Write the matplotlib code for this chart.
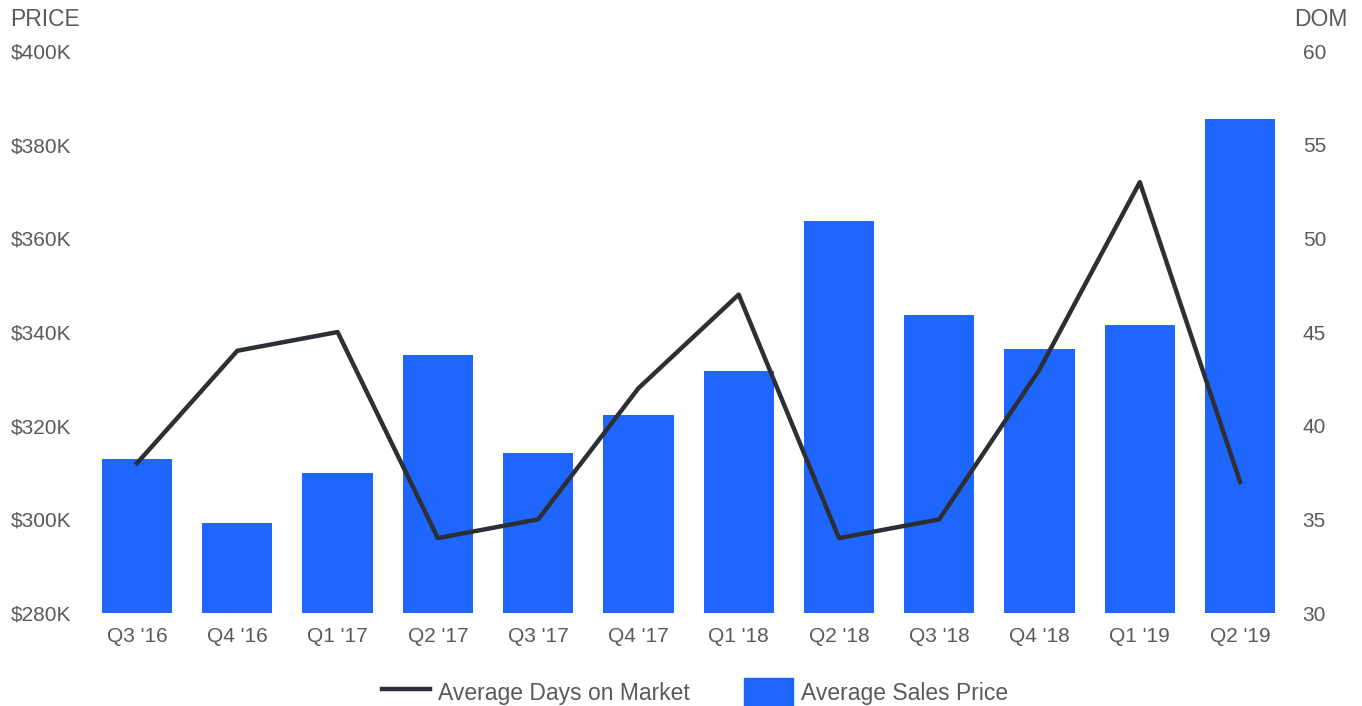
import numpy as np
import matplotlib.pyplot as plt
from matplotlib.lines import Line2D
from matplotlib.patches import Patch

plt.rcParams['font.family'] = ['Liberation Sans', 'DejaVu Sans']

quarters = ["Q3 '16", "Q4 '16", "Q1 '17", "Q2 '17", "Q3 '17", "Q4 '17",
            "Q1 '18", "Q2 '18", "Q3 '18", "Q4 '18", "Q1 '19", "Q2 '19"]
avg_price = [312.9, 299.2, 309.9, 335.1, 314.2, 322.3,
             331.7, 363.7, 343.6, 336.4, 341.5, 385.5]  # $K
avg_dom = [38, 44, 45, 34, 35, 42, 47, 34, 35, 43, 53, 37]

price_ticks = [280, 300, 320, 340, 360, 380, 400]
dom_ticks = [30, 35, 40, 45, 50, 55, 60]

bar_col = '#1f66ff'
line_col = '#2c3035'
txt_col = '#5a5a5a'

fig = plt.figure(figsize=(13.62, 7.06), dpi=100)
ax = fig.add_axes([0.0638, 0.1317, 0.8835, 0.796])
x = np.arange(len(quarters))

ax.bar(x, np.array(avg_price) - 280, bottom=280, width=0.7, color=bar_col, zorder=1)
ax.set_xlim(-0.5, len(quarters) - 0.5)
ax.set_ylim(280, 400)
ax.set_yticks(price_ticks)
ax.set_yticklabels(['$%dK' % v for v in price_ticks])
ax.set_xticks(x)
ax.set_xticklabels(quarters)
ax.tick_params(axis='y', length=0, pad=55, labelsize=15, labelcolor=txt_col)
ax.tick_params(axis='x', length=0, pad=10, labelsize=15, labelcolor=txt_col)
for lab in ax.get_yticklabels():
    lab.set_ha('left')

ax2 = ax.twinx()
ax2.plot(x, avg_dom, color=line_col, lw=3.2, zorder=3)
ax2.set_ylim(30, 60)
ax2.set_yticks(dom_ticks)
ax2.tick_params(axis='y', length=0, pad=9, labelsize=15, labelcolor=txt_col)

for a in (ax, ax2):
    for s in a.spines.values():
        s.set_visible(False)

fig.text(10 / 1362, 1 - 20 / 706, 'PRICE', fontsize=16.5, color=txt_col, va='center', ha='left')
fig.text(1348 / 1362, 1 - 20 / 706, 'DOM', fontsize=16.5, color=txt_col, va='center', ha='right')

handles = [Line2D([0], [0], color=line_col, lw=3.2),
           Patch(color=bar_col)]
fig.legend(handles, ['Average Days on Market', 'Average Sales Price'],
           loc='center', bbox_to_anchor=(0.51, 14 / 706), ncol=2, frameon=False,
           fontsize=16.5, labelcolor=txt_col, handlelength=2.1, handleheight=1.5,
           columnspacing=2.4, handletextpad=0.35)

fig.savefig('out.png', dpi=100)
